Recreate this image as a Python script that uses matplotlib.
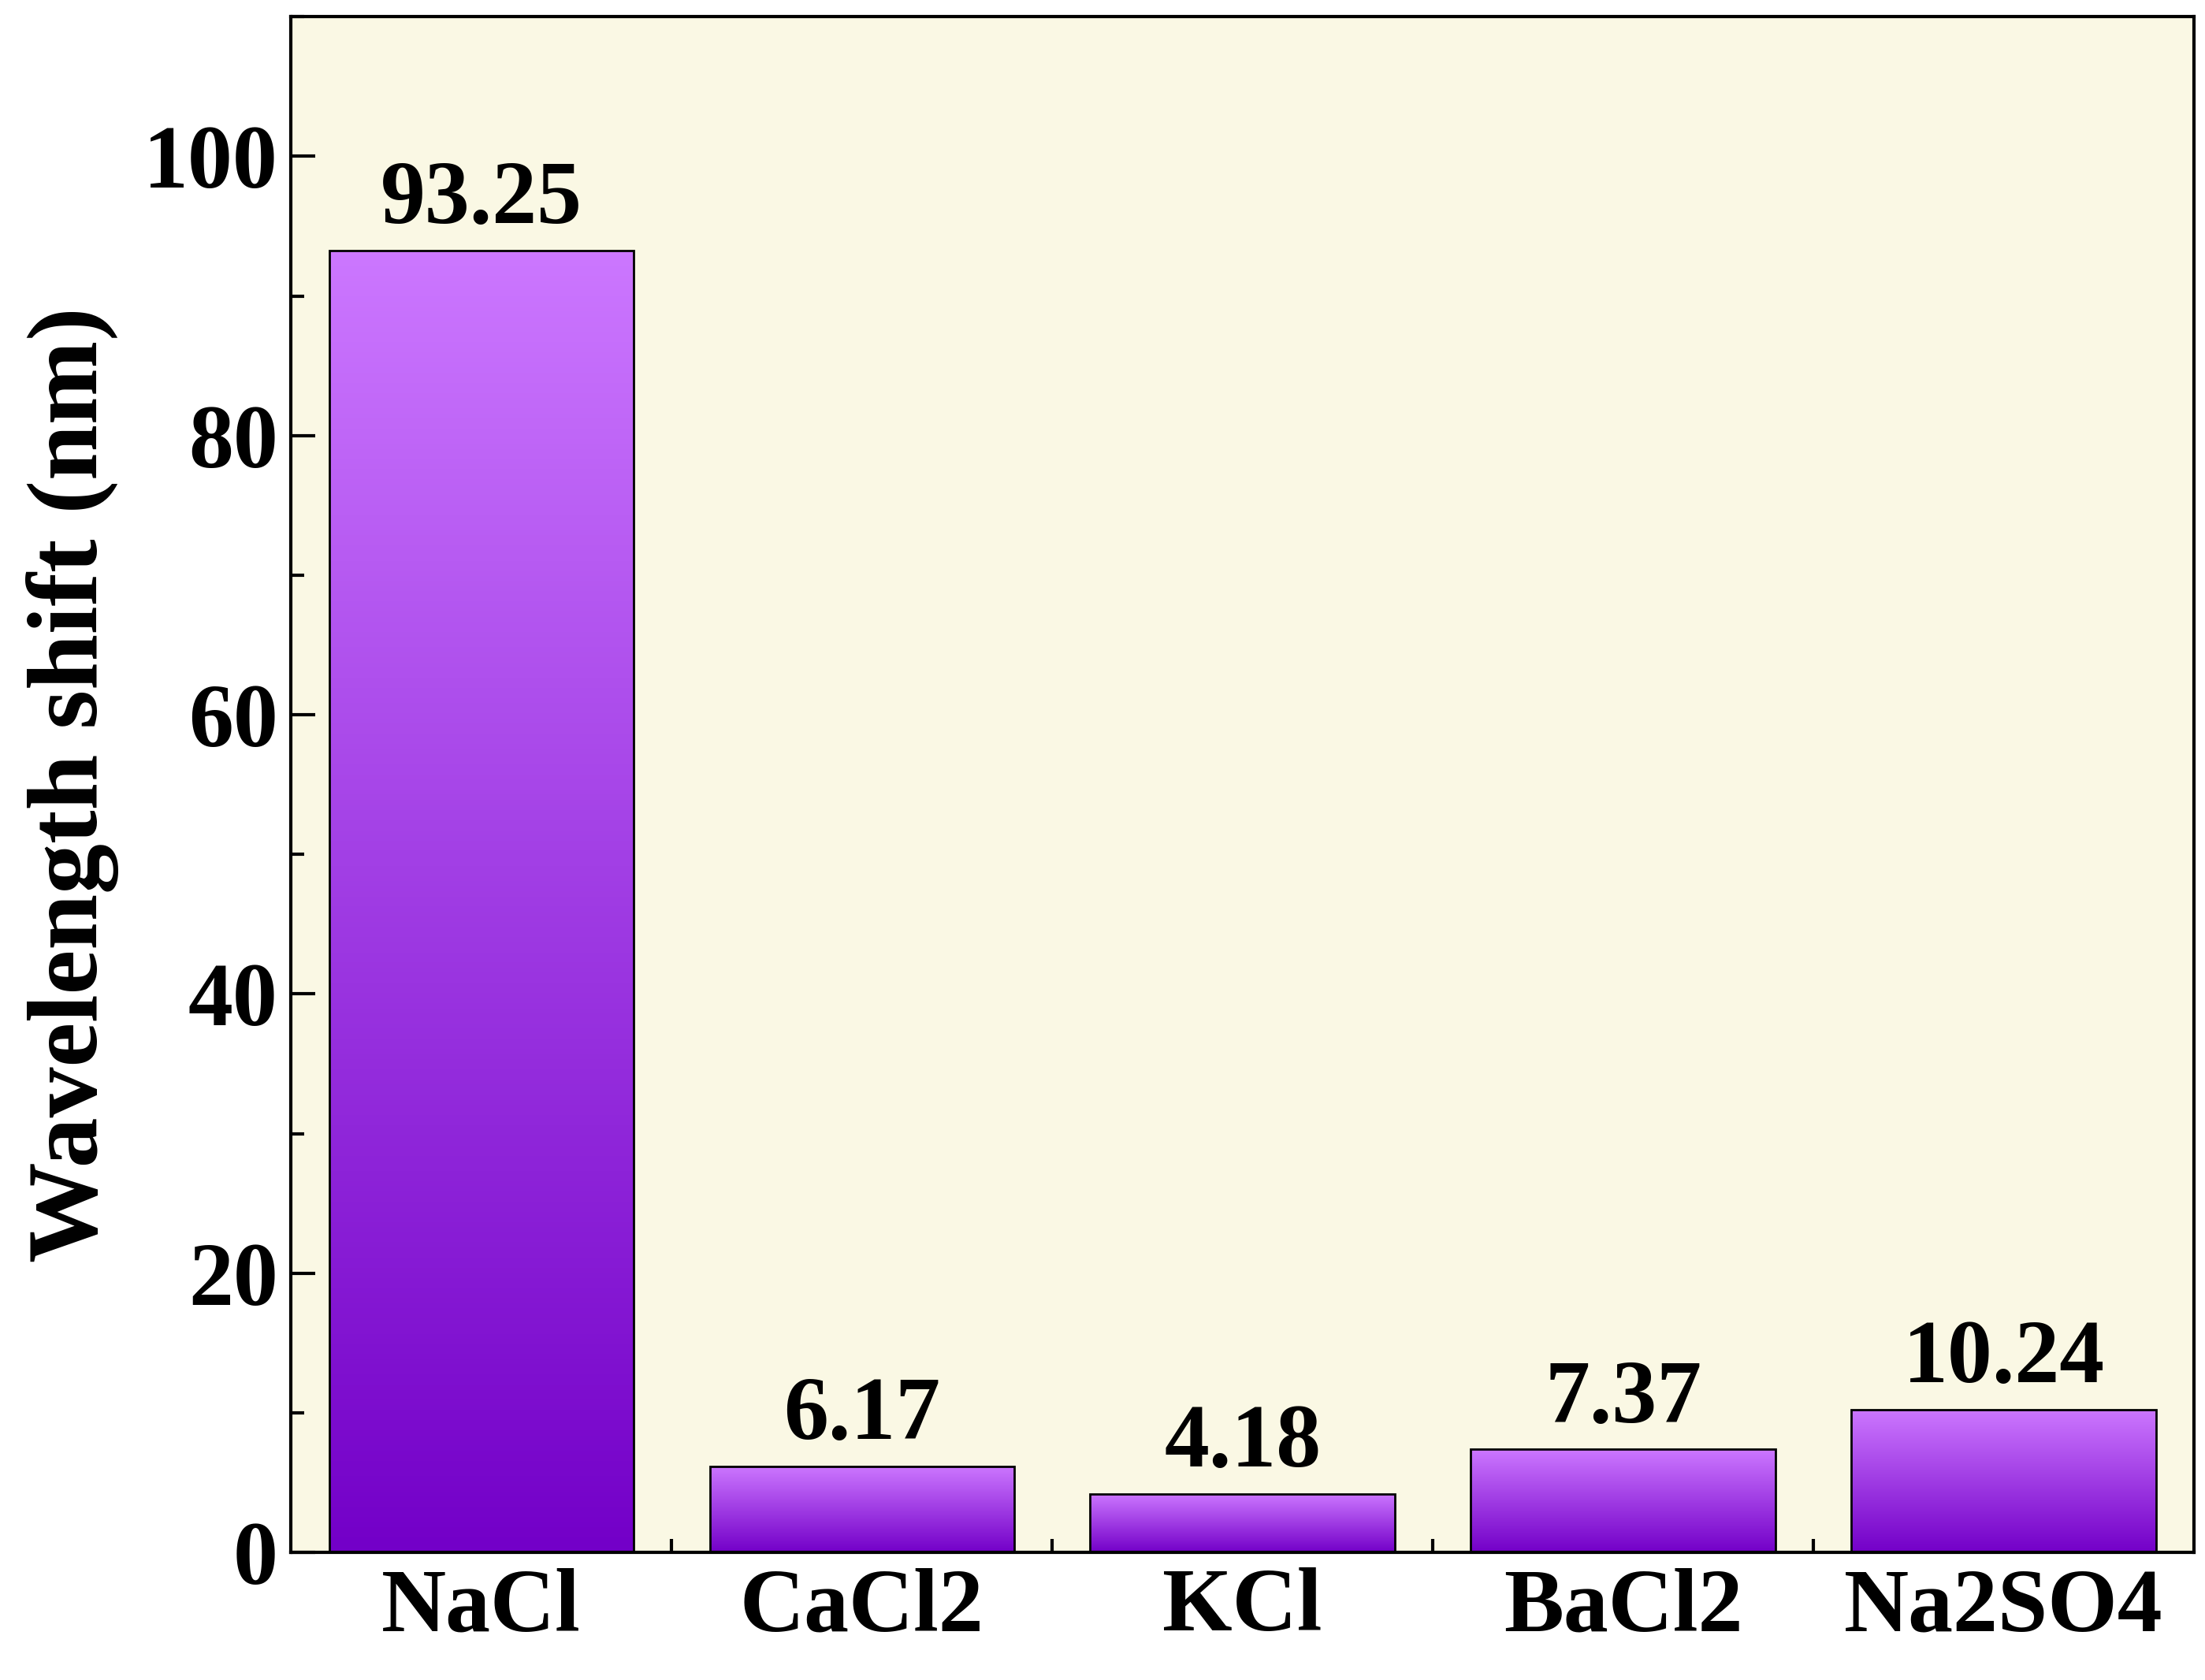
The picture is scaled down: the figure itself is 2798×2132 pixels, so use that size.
import numpy as np
import matplotlib.pyplot as plt
from matplotlib.colors import LinearSegmentedColormap
from matplotlib.ticker import MultipleLocator, FixedLocator

salts = ['NaCl', 'CaCl2', 'KCl', 'BaCl2', 'Na2SO4']
shift = [93.25, 6.17, 4.18, 7.37, 10.24]

plt.rcParams['font.family'] = 'Liberation Serif'
plt.rcParams['font.weight'] = 'bold'

fig = plt.figure(figsize=(27.98, 21.32), dpi=100)
ax = fig.add_axes([0.132, 0.076, 0.863, 0.914])
ax.set_facecolor('#FAF8E4')

cmap = LinearSegmentedColormap.from_list('purp', ['#7300C8', '#CC77FF'])
grad = np.linspace(0, 1, 256).reshape(-1, 1)
x = np.arange(len(salts))
bars = ax.bar(x, shift, width=0.8, facecolor='none', edgecolor='black', linewidth=2, zorder=3)
for b, v in zip(bars, shift):
    x0 = b.get_x()
    im = ax.imshow(grad, cmap=cmap, aspect='auto', origin='lower',
                   extent=[x0, x0 + b.get_width(), 0, v], zorder=2)
    im.set_clip_path(b)
    ax.text(b.get_x() + b.get_width() / 2, v + 0.6, f'{v:.2f}', ha='center', va='bottom',
            fontsize=82, fontweight='bold')

ax.set_xlim(-0.5, 4.5)
ax.set_ylim(0, 110)
ax.set_xticks(x)
ax.set_xticklabels(salts)
ax.xaxis.set_minor_locator(FixedLocator(np.arange(0.5, 4.5, 1)))
ax.yaxis.set_major_locator(MultipleLocator(20))
ax.yaxis.set_minor_locator(MultipleLocator(10))
ax.tick_params(which='both', direction='in', width=3, labelsize=82)
ax.tick_params(which='major', length=22)
ax.tick_params(which='minor', length=12)
ax.tick_params(axis='x', pad=14)
ax.tick_params(axis='y', pad=12)
for s in ax.spines.values():
    s.set_linewidth(3)
ax.set_ylabel('Wavelength shift (nm)', fontsize=92, fontweight='bold', labelpad=22)

fig.savefig('out.png', dpi=100)
